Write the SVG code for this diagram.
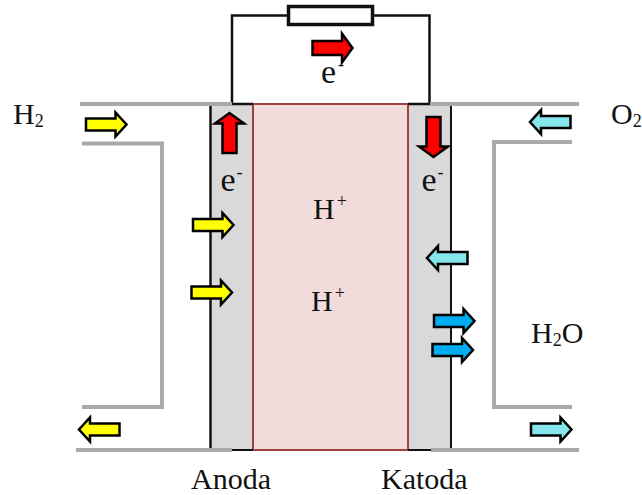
<svg xmlns="http://www.w3.org/2000/svg" width="642" height="495" viewBox="0 0 642 495">
<style>
text{font-family:"Liberation Serif","Times New Roman",serif;font-size:30px;fill:#111}
.sub{font-size:18px}
.big{font-size:34px}
.gr{fill:none;stroke:#a9a9a9;stroke-width:4}
.ar{stroke:#000;stroke-width:2.500;stroke-linejoin:miter}
.y{fill:#ffff00}.r{fill:#ff0000}.c{fill:#85e6ec}.b{fill:#00aeef}
</style>
<defs>
<path id="a" d="M-20.500-6H9V-12L20 0 9 12V6H-20.500Z" class="ar"/>
<path id="w" d="M-20-7H9.500V-14.500L20 0 9.500 14.500V7H-20Z" class="ar"/>
</defs>
<g id="anode"><rect x="210.500" y="104" width="42.500" height="346" fill="#d9d9d9"/><path d="M210.500 105V450" stroke="#111" stroke-width="2.500" fill="none"/></g>
<g id="cathode"><rect x="408" y="104" width="43" height="346" fill="#d9d9d9"/><path d="M451 105V450" stroke="#111" stroke-width="2" fill="none"/></g>
<g id="membrane"><rect x="253" y="104" width="155" height="346" fill="#f2dcdb" stroke="#a04040" stroke-width="2"/></g>
<g id="connectors">
<path d="M253 104H232V15.500H288M373 15.500H429.500V104H408" fill="none" stroke="#111" stroke-width="2.500"/>
<path d="M232 450H253M408 450H432" fill="none" stroke="#111" stroke-width="2"/>
<path class="gr" d="M80 104H232M430 104H579"/>
<path class="gr" d="M82 143.500H162V407H82"/>
<path class="gr" d="M572 142H494V407H572"/>
<path class="gr" d="M76 450H232M431 450H579"/>
</g>
<g id="resistor"><rect x="288.500" y="6.500" width="84" height="18" fill="#fff" stroke="#111" stroke-width="3.500"/></g>
<g id="arrows">
<use href="#a" class="y" x="106.500" y="124.500"/>
<use href="#a" class="y" x="213.500" y="225"/>
<use href="#a" class="y" x="212" y="292.500"/>
<use href="#a" class="y" transform="translate(99 429.500) rotate(180)"/>
<use href="#w" class="r" x="332.500" y="48"/>
<use href="#w" class="r" transform="translate(229.500 133) rotate(-90)"/>
<use href="#w" class="r" transform="translate(433.500 137) rotate(90)"/>
<use href="#a" class="c" transform="translate(550 122) rotate(180)"/>
<use href="#a" class="c" transform="translate(447 258) rotate(180)"/>
<use href="#a" class="b" x="454.500" y="321"/>
<use href="#a" class="b" x="453" y="350"/>
<use href="#a" class="c" x="551.500" y="429.500"/>
</g>
<g id="labels">
<text x="13" y="124">H<tspan class="sub" dy="3">2</tspan></text>
<text x="611" y="124">O<tspan class="sub" dy="3">2</tspan></text>
<text class="big" x="321" y="83">e<tspan class="sub" dy="-13" dx="2">-</tspan></text>
<text class="big" x="220.500" y="190.500">e<tspan class="sub" dy="-13" dx="1">-</tspan></text>
<text class="big" x="421.500" y="190.500">e<tspan class="sub" dy="-13" dx="1">-</tspan></text>
<text x="313" y="218.500">H<tspan class="sub" dy="-12" dx="2">+</tspan></text>
<text x="311" y="311">H<tspan class="sub" dy="-12" dx="2">+</tspan></text>
<text x="531" y="343">H<tspan class="sub" dy="3">2</tspan><tspan dy="-3">O</tspan></text>
<text x="191" y="489">Anoda</text>
<text x="381" y="489">Katoda</text>
</g>
</svg>
